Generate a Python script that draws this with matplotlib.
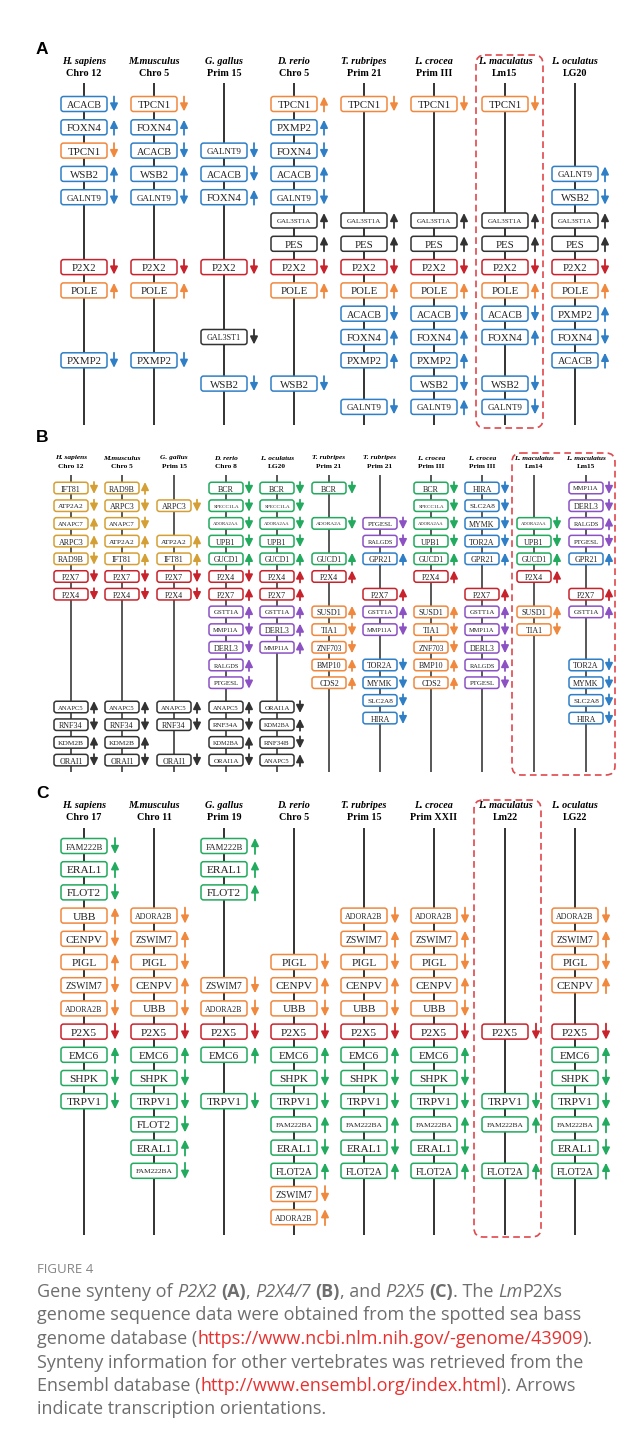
import matplotlib
matplotlib.use("Agg")
import matplotlib.pyplot as plt
from matplotlib.patches import FancyBboxPatch

# gene order along each chromosome; None = empty slot, +1 / -1 = strand
# ---- A : P2X2 ----
A_species = ["H. sapiens", "M.musculus", "G. gallus", "D. rerio",
             "T. rubripes", "L. crocea", "L. maculatus", "L. oculatus"]
A_chrom = ["Chro 12", "Chro 5", "Prim 15", "Chro 5", "Prim 21", "Prim III", "Lm15", "LG20"]
A_genes = [
    [("ACACB", -1), ("FOXN4", 1), ("TPCN1", -1), ("WSB2", 1), ("GALNT9", -1), None, None,
     ("P2X2", -1), ("POLE", 1), None, None, ("PXMP2", -1)],
    [("TPCN1", -1), ("FOXN4", 1), ("ACACB", -1), ("WSB2", 1), ("GALNT9", -1), None, None,
     ("P2X2", -1), ("POLE", 1), None, None, ("PXMP2", -1)],
    [None, None, ("GALNT9", -1), ("ACACB", -1), ("FOXN4", 1), None, None,
     ("P2X2", -1), None, None, ("GAL3ST1", -1), None, ("WSB2", -1)],
    [("TPCN1", 1), ("PXMP2", 1), ("FOXN4", -1), ("ACACB", 1), ("GALNT9", -1), ("GAL3ST1A", 1),
     ("PES", 1), ("P2X2", -1), ("POLE", 1), None, None, None, ("WSB2", -1)],
    [("TPCN1", -1), None, None, None, None, ("GAL3ST1A", 1), ("PES", 1), ("P2X2", -1),
     ("POLE", 1), ("ACACB", -1), ("FOXN4", 1), ("PXMP2", 1), None, ("GALNT9", -1)],
    [("TPCN1", -1), None, None, None, None, ("GAL3ST1A", 1), ("PES", 1), ("P2X2", -1),
     ("POLE", 1), ("ACACB", -1), ("FOXN4", 1), ("PXMP2", 1), ("WSB2", -1), ("GALNT9", 1)],
    [("TPCN1", -1), None, None, None, None, ("GAL3ST1A", 1), ("PES", 1), ("P2X2", -1),
     ("POLE", 1), ("ACACB", -1), ("FOXN4", 1), None, ("WSB2", -1), ("GALNT9", -1)],
    [None, None, None, ("GALNT9", 1), ("WSB2", -1), ("GAL3ST1A", 1), ("PES", 1), ("P2X2", -1),
     ("POLE", 1), ("PXMP2", 1), ("FOXN4", -1), ("ACACB", 1)],
]

# ---- B : P2X4 / P2X7 ----
B_species = ["H. sapiens", "M.musculus", "G. gallus", "D. rerio", "L. oculatus", "T. rubripes",
             "T. rubripes", "L. crocea", "L. crocea", "L. maculatus", "L. maculatus"]
B_chrom = ["Chro 12", "Chro 5", "Prim 15", "Chro 8", "LG20", "Prim 21", "Prim 21",
           "Prim III", "Prim III", "Lm14", "Lm15"]
B_genes = [
    [("IFT81", -1), ("ATP2A2", -1), ("ANAPC7", 1), ("ARPC3", 1), ("RAD9B", -1), ("P2X7", -1), ("P2X4", -1)],
    [("RAD9B", 1), ("ARPC3", -1), ("ANAPC7", -1), ("ATP2A2", 1), ("IFT81", 1), ("P2X7", -1), ("P2X4", -1)],
    [None, ("ARPC3", -1), None, ("ATP2A2", 1), ("IFT81", 1), ("P2X7", -1), ("P2X4", -1)],
    [("BCR", -1), ("SPECC1LA", -1), ("ADORA2AA", -1), ("UPB1", -1), ("GUCD1", 1), ("P2X4", -1),
     ("P2X7", 1), ("GSTT1A", 1), ("MMP11A", -1), ("DERL3", -1), ("RALGDS", 1), ("PTGESL", -1)],
    [("BCR", -1), ("SPECC1LA", -1), ("ADORA2AA", -1), ("UPB1", -1), ("GUCD1", 1), ("P2X4", 1),
     ("P2X7", 1), ("GSTT1A", 1), ("DERL3", 1), ("MMP11A", 1)],
    [("BCR", -1), None, ("ADORA2A", -1), None, ("GUCD1", 1), ("P2X4", 1), None,
     ("SUSD1", 1), ("TIA1", -1), ("ZNF703", -1), ("BMP10", 1), ("CDS2", 1)],
    [None, None, ("PTGESL", -1), ("RALGDS", -1), ("GPR21", 1), None, ("P2X7", 1),
     ("GSTT1A", 1), ("MMP11A", -1), None, ("TOR2A", -1), ("MYMK", -1), ("SLC2A8", -1), ("HIRA", -1)],
    [("BCR", -1), ("SPECC1LA", -1), ("ADORA2AA", -1), ("UPB1", -1), ("GUCD1", 1), ("P2X4", 1), None,
     ("SUSD1", 1), ("TIA1", -1), ("ZNF703", -1), ("BMP10", 1), ("CDS2", 1)],
    [("HIRA", -1), ("SLC2A8", -1), ("MYMK", -1), ("TOR2A", -1), ("GPR21", 1), None, ("P2X7", 1),
     ("GSTT1A", 1), ("MMP11A", -1), ("DERL3", -1), ("RALGDS", 1), ("PTGESL", -1)],
    [None, None, ("ADORA2AA", -1), ("UPB1", -1), ("GUCD1", 1), ("P2X4", 1), None,
     ("SUSD1", 1), ("TIA1", -1)],
    [("MMP11A", -1), ("DERL3", -1), ("RALGDS", 1), ("PTGESL", -1), ("GPR21", 1), None, ("P2X7", 1),
     ("GSTT1A", 1), None, None, ("TOR2A", -1), ("MYMK", -1), ("SLC2A8", -1), ("HIRA", -1)],
]
# distal block at the bottom of the first five chromosomes
B_tail = [
    [("ANAPC5", 1), ("RNF34", -1), ("KDM2B", 1), ("ORAI1", -1)],
    [("ANAPC5", 1), ("RNF34", -1), ("KDM2B", 1), ("ORAI1", -1)],
    [("ANAPC5", 1), ("RNF34", -1), None, ("ORAI1", -1)],
    [("ANAPC5", 1), ("RNF34A", -1), ("KDM2BA", 1), ("ORAI1A", -1)],
    [("ORAI1A", -1), ("KDM2BA", 1), ("RNF34B", -1), ("ANAPC5", 1)],
]

# ---- C : P2X5 ----
C_species = ["H. sapiens", "M.musculus", "G. gallus", "D. rerio",
             "T. rubripes", "L. crocea", "L. maculatus", "L. oculatus"]
C_chrom = ["Chro 17", "Chro 11", "Prim 19", "Chro 5", "Prim 15", "Prim XXII", "Lm22", "LG22"]
C_genes = [
    [("FAM222B", -1), ("ERAL1", 1), ("FLOT2", -1), ("UBB", 1), ("CENPV", -1), ("PIGL", 1),
     ("ZSWIM7", -1), ("ADORA2B", -1), ("P2X5", -1), ("EMC6", 1), ("SHPK", -1), ("TRPV1", -1)],
    [None, None, None, ("ADORA2B", -1), ("ZSWIM7", 1), ("PIGL", -1), ("CENPV", 1), ("UBB", -1),
     ("P2X5", -1), ("EMC6", 1), ("SHPK", -1), ("TRPV1", -1), ("FLOT2", -1), ("ERAL1", 1), ("FAM222BA", -1)],
    [("FAM222B", 1), ("ERAL1", 1), ("FLOT2", 1), None, None, None, ("ZSWIM7", -1), ("ADORA2B", -1),
     ("P2X5", -1), ("EMC6", 1), None, ("TRPV1", -1)],
    [None, None, None, None, None, ("PIGL", -1), ("CENPV", 1), ("UBB", -1), ("P2X5", -1), ("EMC6", 1),
     ("SHPK", -1), ("TRPV1", -1), ("FAM222BA", 1), ("ERAL1", -1), ("FLOT2A", 1), ("ZSWIM7", -1), ("ADORA2B", 1)],
    [None, None, None, ("ADORA2B", -1), ("ZSWIM7", 1), ("PIGL", -1), ("CENPV", 1), ("UBB", -1),
     ("P2X5", -1), ("EMC6", 1), ("SHPK", -1), ("TRPV1", -1), ("FAM222BA", 1), ("ERAL1", -1), ("FLOT2A", 1)],
    [None, None, None, ("ADORA2B", -1), ("ZSWIM7", 1), ("PIGL", -1), ("CENPV", 1), ("UBB", -1),
     ("P2X5", -1), ("EMC6", 1), ("SHPK", -1), ("TRPV1", -1), ("FAM222BA", 1), ("ERAL1", -1), ("FLOT2A", 1)],
    [None, None, None, None, None, None, None, None, ("P2X5", -1), None, None, ("TRPV1", -1),
     ("FAM222BA", 1), None, ("FLOT2A", 1)],
    [None, None, None, ("ADORA2B", -1), ("ZSWIM7", 1), ("PIGL", -1), ("CENPV", 1), None,
     ("P2X5", -1), ("EMC6", 1), ("SHPK", -1), ("TRPV1", -1), ("FAM222BA", 1), ("ERAL1", -1), ("FLOT2A", 1)],
]

# colour family of each gene
BLUE, ORANGE, RED, BLACK = "#2f7fc6", "#f0883e", "#c8232c", "#333333"
GREEN, GOLD, PURPLE = "#22aa5e", "#d4a035", "#8c52c4"
families = {
    BLUE: ["ACACB", "FOXN4", "WSB2", "GALNT9", "PXMP2", "GPR21", "TOR2A", "MYMK", "SLC2A8", "HIRA"],
    ORANGE: ["TPCN1", "POLE", "SUSD1", "TIA1", "ZNF703", "BMP10", "CDS2",
             "UBB", "CENPV", "PIGL", "ZSWIM7", "ADORA2B"],
    RED: ["P2X2", "P2X4", "P2X7", "P2X5"],
    BLACK: ["GAL3ST1", "GAL3ST1A", "PES", "ANAPC5", "RNF34", "RNF34A", "RNF34B",
            "KDM2B", "KDM2BA", "ORAI1", "ORAI1A"],
    GREEN: ["BCR", "SPECC1LA", "ADORA2AA", "ADORA2A", "UPB1", "GUCD1",
            "FAM222B", "FAM222BA", "ERAL1", "FLOT2", "FLOT2A", "EMC6", "SHPK", "TRPV1"],
    GOLD: ["IFT81", "ATP2A2", "ANAPC7", "ARPC3", "RAD9B"],
    PURPLE: ["GSTT1A", "MMP11A", "DERL3", "RALGDS", "PTGESL"],
}
gene_color = {g: c for c, gs in families.items() for g in gs}

fig = plt.figure(figsize=(6.41, 14.44), dpi=100)
ax = fig.add_axes([0, 0, 1, 1])
ax.set_xlim(0, 641)
ax.set_ylim(1444, 0)
ax.axis("off")
renderer = fig.canvas.get_renderer()

SERIF = "Liberation Serif"
SANS = "Open Sans"


def text_width(s, **kw):
    t = ax.text(0, 0, s + "|", **kw)
    w = t.get_window_extent(renderer).width
    t.set_text("|")
    w -= t.get_window_extent(renderer).width
    t.remove()
    return w


def gene_box(x, y, name, strand, st):
    col = gene_color[name]
    ax.add_patch(FancyBboxPatch((x - st["w"] / 2, y - st["h"] / 2), st["w"], st["h"],
                                boxstyle="round,pad=0,rounding_size=2.5",
                                fc="white", ec=col, lw=1.1, zorder=3))
    fs = st["fs"]
    w = text_width(name, fontsize=fs, family=SERIF)
    if w > st["fit"]:
        fs *= st["fit"] / w
    ax.text(x, y + 0.5, name, fontsize=fs, family=SERIF, ha="center", va="center_baseline",
            color="#222222", zorder=4)
    half = st["al"] / 2
    tail, tip = (y + half, y - half) if strand > 0 else (y - half, y + half)
    ax.annotate("", xy=(x + st["dx"], tip), xytext=(x + st["dx"], tail), zorder=4,
                arrowprops=dict(arrowstyle="-|>,head_length=0.45,head_width=0.22",
                                color=col, lw=1.3, shrinkA=0, shrinkB=0, mutation_scale=10))


def panel(letter, ly, xs, species, chrom, genes, hy, line, y0, dy, st):
    ax.text(36, ly, letter, fontsize=12.5, family="Liberation Sans", weight="bold",
            ha="left", va="center", color="black")
    for i, x in enumerate(xs):
        ax.text(x, hy[0], species[i], fontsize=st["hfs"], family=SERIF, weight="bold",
                style="italic", ha="center", va="center")
        ax.text(x, hy[1], chrom[i], fontsize=st["hfs"], family=SERIF, weight="bold",
                ha="center", va="center")
        ax.plot([x, x], line, color=st["lc"], lw=1.3, zorder=1, solid_capstyle="butt")
        for k, g in enumerate(genes[i]):
            if g is not None:
                gene_box(x, y0 + k * dy, g[0], g[1], st)


def dashed(x0, x1, y0, y1):
    ax.add_patch(FancyBboxPatch((x0, y0), x1 - x0, y1 - y0,
                                boxstyle="round,pad=0,rounding_size=9",
                                fc="none", ec="#e0474c", lw=1.2, ls=(0, (4, 2.5)), zorder=2))


styleA = dict(w=46, h=15, dx=30, al=15, fs=7.8, fit=35, hfs=7.3, lc="#222222")
styleB = dict(w=34, h=11.5, dx=23, al=12, fs=5.8, fit=25.5, hfs=5.3, lc="#4a4a4a")
styleC = dict(w=46, h=15, dx=31, al=16, fs=8.2, fit=37, hfs=7.3, lc="#222222")

xA = [84, 154, 224, 294, 364, 434, 505, 575]
xB = [71, 122, 174, 226, 277, 329, 380, 431, 482, 534, 586]

panel("A", 50, xA, A_species, A_chrom, A_genes, (62, 73), (83, 425), 104, 23.3, styleA)
dashed(476, 543, 55, 428)

panel("B", 437, xB, B_species, B_chrom, B_genes, (458, 467), (475, 772), 488, 17.7, styleB)
for i, tail in enumerate(B_tail):
    for k, g in enumerate(tail):
        if g is not None:
            gene_box(xB[i], 707 + k * 17.7, g[0], g[1], styleB)
dashed(512, 615, 453, 775)

panel("C", 793, xA, C_species, C_chrom, C_genes, (806, 818), (828, 1235), 846, 23.2, styleC)
dashed(474, 541, 800, 1237)

# caption
CAP = dict(fontsize=13.0, family=SANS, color="#6e6e6e", va="baseline", ha="left")
ax.text(37, 1273, "FIGURE 4", fontsize=9.5, family=SANS, color="#858585", va="baseline")
caption = [
    [("Gene synteny of ", ""), ("P2X2", "i"), (" ", ""), ("(A)", "b"), (", ", ""), ("P2X4/7", "i"),
     (" ", ""), ("(B)", "b"), (", and ", ""), ("P2X5", "i"), (" ", ""), ("(C)", "b"),
     (". The ", ""), ("Lm", "i"), ("P2Xs", "")],
    [("genome sequence data were obtained from the spotted sea bass", "")],
    [("genome database (", ""), ("https://www.ncbi.nlm.nih.gov/-genome/43909", "l"), (").", "")],
    [("Synteny information for other vertebrates was retrieved from the", "")],
    [("Ensembl database (", ""), ("http://www.ensembl.org/index.html", "l"), ("). Arrows", "")],
    [("indicate transcription orientations.", "")],
]
for n, segs in enumerate(caption):
    x = 37
    y = 1297 + n * 23.5
    for s, kind in segs:
        kw = dict(CAP)
        if kind == "i":
            kw["style"] = "italic"
        elif kind == "b":
            kw["weight"] = "bold"
        elif kind == "l":
            kw["color"] = "#e8312f"
        ax.text(x, y, s, **kw)
        x += text_width(s, **kw)

fig.savefig("out.png", dpi=100, facecolor="white")
